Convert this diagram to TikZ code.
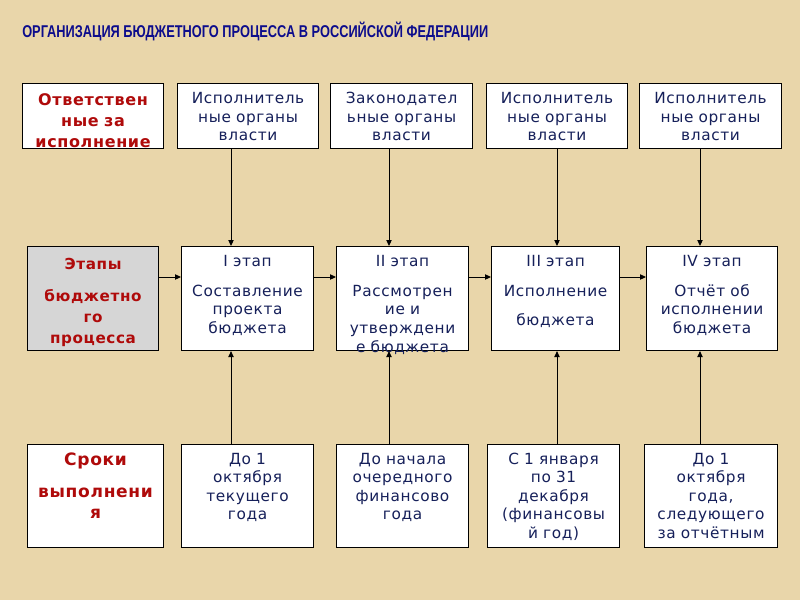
\documentclass[tikz,border=0pt]{standalone}
\usepackage{fontspec}
\usepackage{graphicx}
\setmainfont{DejaVu Sans}
\newfontfamily\titlefont{Liberation Sans}
\newfontfamily\boxfont[LetterSpace=4]{DejaVu Sans}
\usetikzlibrary{arrows.meta}
\definecolor{parchment}{RGB}{233,214,170}
\definecolor{navytext}{RGB}{22,32,90}
\definecolor{redtext}{RGB}{175,10,10}
\definecolor{titleblue}{RGB}{12,12,140}
\definecolor{stagegray}{RGB}{214,214,214}
\hyphenpenalty=10000

\begin{document}
\begin{tikzpicture}[x=0.75pt, y=-0.75pt,
    blk/.style={draw=black, line width=0.8pt, fill=white, inner sep=0pt,
      align=center, anchor=north west, text=navytext,
      font=\boxfont\fontsize{11.5}{13.9}\selectfont},
    redblk/.style={blk, text=redtext, font=\boxfont\bfseries\fontsize{12}{15.75}\selectfont},
    toprow/.style={text height=15pt, text depth=33.75pt},
    toprowred/.style={text height=16.5pt, text depth=32.25pt},
    midrow/.style={text height=15pt, text depth=63pt},
    midrowred/.style={text height=16.9pt, text depth=61.1pt},
    botrow/.style={text height=14.6pt, text depth=62.6pt},
    botrowred/.style={text height=15.75pt, text depth=61.5pt},
    arr/.style={line width=0.75pt, -{Triangle[length=4.5pt,width=4pt]}}]
    \fill[parchment] (0,0) rectangle (800,600);

    \node[anchor=base west, inner sep=0pt, text=titleblue,
      font=\titlefont\bfseries\fontsize{12.8}{15}\selectfont] (title) at (22,37)
      {\resizebox{349.5pt}{\height}{ОРГАНИЗАЦИЯ БЮДЖЕТНОГО ПРОЦЕССА В РОССИЙСКОЙ ФЕДЕРАЦИИ}};

    % who is responsible
    \node[redblk, toprowred, text width=105.75pt] (resp) at (22,83) {Ответствен\\ные за\\исполнение};
    \node[blk, toprow, text width=105.75pt] (org1) at (177,83) {Исполнитель\\ные органы\\власти};
    \node[blk, toprow, text width=106.5pt] (org2) at (330,83) {Законодател\\ьные органы\\власти};
    \node[blk, toprow, text width=105.75pt] (org3) at (486,83) {Исполнитель\\ные органы\\власти};
    \node[blk, toprow, text width=106.5pt] (org4) at (639,83) {Исполнитель\\ные органы\\власти};

    % stages
    \node[redblk, midrowred, fill=stagegray, text width=98.25pt, font=\boxfont\bfseries\fontsize{11.4}{15.75}\selectfont]
      (stages) at (27,246) {Этапы\\[8.25pt]бюджетно\\го\\процесса};
    \node[blk, midrow, text width=99pt] (st1) at (181,246) {I этап\\[8.5pt]Составление\\проекта\\бюджета};
    \node[blk, midrow, text width=99pt] (st2) at (336,246) {II этап\\[8.5pt]Рассмотрен\\ие и\\утверждени\\е бюджета};
    \node[blk, midrow, text width=96pt] (st3) at (491,246) {III этап\\[8.5pt]Исполнение\\[8.25pt]бюджета};
    \node[blk, midrow, text width=98.25pt] (st4) at (646,246) {IV этап\\[8.5pt]Отчёт об\\исполнении\\бюджета};

    % terms
    \node[redblk, botrowred, text width=102pt, font=\boxfont\bfseries\fontsize{12.8}{15.75}\selectfont]
      (terms) at (27,444) {Сроки\\[8.25pt]выполнени\\я};
    \node[blk, botrow, text width=99pt] (tm1) at (181,444) {До 1\\октября\\текущего\\года};
    \node[blk, botrow, text width=99pt] (tm2) at (336,444) {До начала\\очередного\\финансово\\года};
    \node[blk, botrow, text width=99pt] (tm3) at (487,444) {С 1 января\\по 31\\декабря\\(финансовы\\й год)};
    \node[blk, botrow, text width=99.75pt] (tm4) at (644,444) {До 1\\октября\\года,\\следующего\\за отчётным};

    % arrows
    \draw[arr] (org1.south -| 231,0) -- (st1.north -| 231,0);
    \draw[arr] (org2.south -| 389,0) -- (st2.north -| 389,0);
    \draw[arr] (org3.south -| 557,0) -- (st3.north -| 557,0);
    \draw[arr] (org4.south -| 700,0) -- (st4.north -| 700,0);
    \draw[arr] (tm1.north -| 231,0) -- (st1.south -| 231,0);
    \draw[arr] (tm2.north -| 389,0) -- (st2.south -| 389,0);
    \draw[arr] (tm3.north -| 557,0) -- (st3.south -| 557,0);
    \draw[arr] (tm4.north -| 700,0) -- (st4.south -| 700,0);
    \draw[arr] (stages.east |- 0,277) -- (st1.west |- 0,277);
    \draw[arr] (st1.east |- 0,277) -- (st2.west |- 0,277);
    \draw[arr] (st2.east |- 0,277) -- (st3.west |- 0,277);
    \draw[arr] (st3.east |- 0,277) -- (st4.west |- 0,277);
\end{tikzpicture}
\end{document}
